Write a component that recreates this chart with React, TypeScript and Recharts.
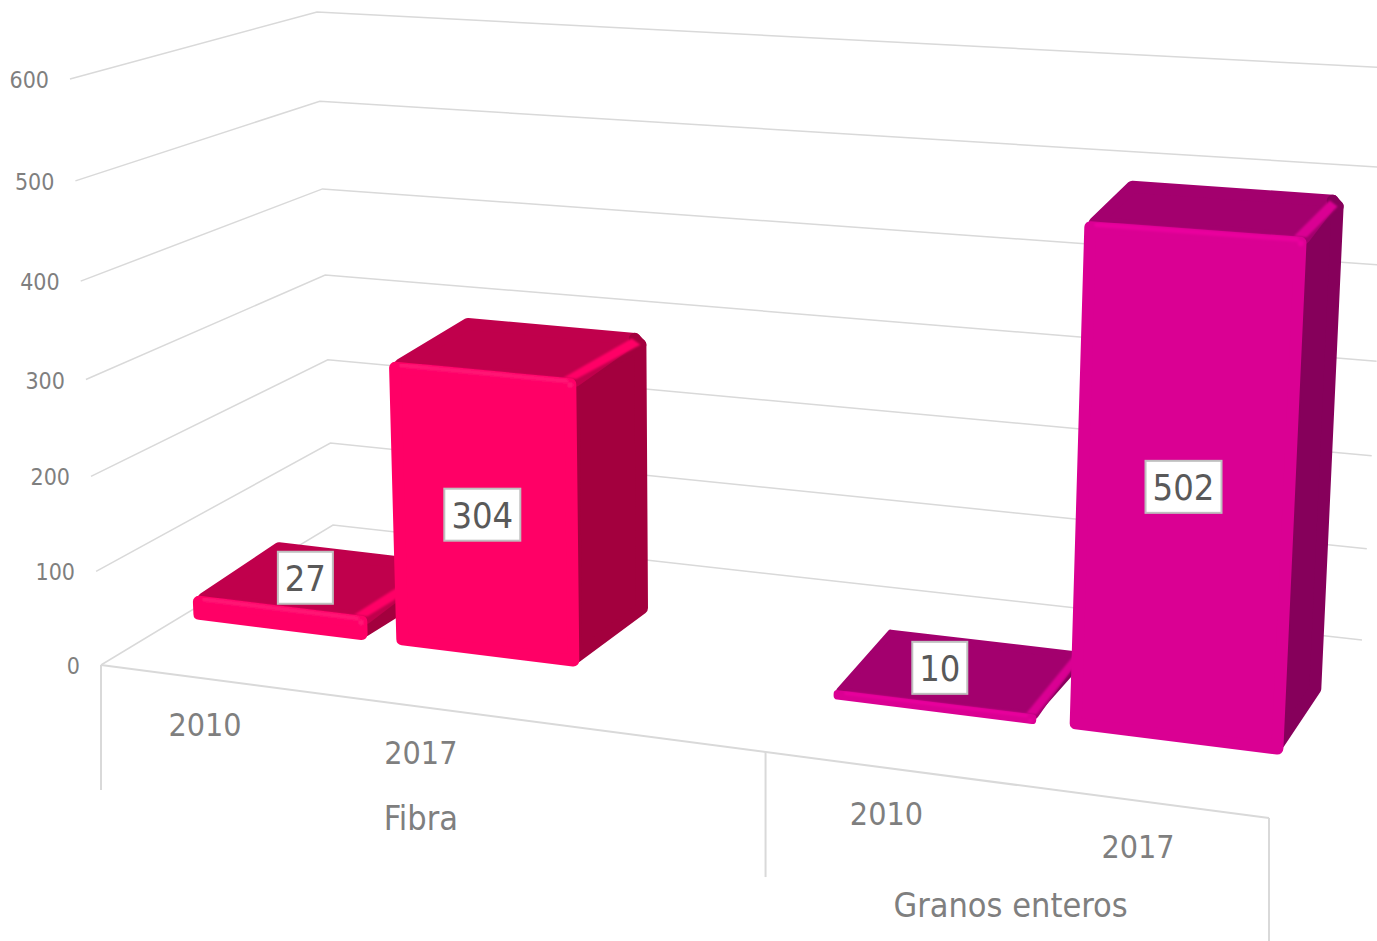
// 3D look clustered columns, every mark goes through the chart scales and then project()

import React from 'react';
import { BarChart, Bar, XAxis, YAxis, CartesianGrid, LabelList } from 'recharts';

const years = ['2010', '2017', '', '2010', '2017'];
const values = [27, 304, null, 10, 502];
const valueTicks = [0, 100, 200, 300, 400, 500, 600];
const groupLabels = ['Fibra', 'Granos enteros'];
const groupCenters = [1.5, 4];
const groupEdges = [0, 3, 5];

const chartData = years.map((year, i) => ({ year, value: values[i], slot: i }));

const W = 1377;
const H = 941;
// the axes need a size of at least 1px to draw, so the plot is a little smaller than the chart
const PLOT_W = W - 1;
const PLOT_H = H - 2;
const FONT = '"DejaVu Sans Condensed", "DejaVu Sans", sans-serif';
const GRID = '#d9d9d9';
const MUTED = '#7f7f7f';

// corners of the 3D box on screen
const FBL = [101, 665];
const FBR = [1269, 818];
const FTL = [70, 79];
const FTR = [1298, 165];
const BBL = [333, 525];
const BBR = [1362, 640];
const BTL = [317, 12];
const BTR = [1392, 68];

const BAR_FRONT = 0.34;
const BAR_BACK = 0.71;

const lerp = (a: number[], b: number[], t: number) => [a[0] + (b[0] - a[0]) * t, a[1] + (b[1] - a[1]) * t];
const warp = (u: number, k: number) => (k * u) / (1 + (k - 1) * u);
const toU = (x: number) => (x - 1) / PLOT_W;
const toV = (y: number) => (PLOT_H - y) / PLOT_H;
const dist = (a: number[], b: number[]) => Math.hypot(a[0] - b[0], a[1] - b[1]) || 1;
// point px pixels from a towards b
const toward = (a: number[], b: number[], px: number) => lerp(a, b, px / dist(a, b));

function project(u: number, v: number, depth: number) {
  const s = warp(u, 0.88);
  const bottom = lerp(lerp(FBL, FBR, s), lerp(BBL, BBR, s), depth);
  const top = lerp(lerp(FTL, FTR, s), lerp(BTL, BTR, s), depth);
  return lerp(bottom, top, warp(v, 0.95));
}

const pts = (list: number[][]) => list.map(p => `${p[0].toFixed(1)},${p[1].toFixed(1)}`).join(' ');

// pull the corners of a quad in, so a thick round stroke gives rounded corners at the true outline
function inset(quad: number[][], r: number) {
  return quad.map((p, i) => {
    const a = toward(p, quad[(i + 1) % 4], r);
    const b = toward(p, quad[(i + 3) % 4], r);
    return [a[0] + b[0] - p[0], a[1] + b[1] - p[1]];
  });
}

const pinkColors = { front: '#ff0066', top: '#c0004c', side: '#a3003e', shine: '#ff1274' };
const magentaColors = { front: '#da0093', top: '#a3006e', side: '#86005b', shine: '#ea009e' };
const palettes = [pinkColors, pinkColors, null, magentaColors, magentaColors];

// hand placed labels in the original, the two low bars have theirs moved up onto the top face
const labelNudges = [[26, -40], [-2, 0], [0, 0], [6, -39], [-1, -4]];

function Face({ quad, color, r }: any) {
  return <polygon points={pts(inset(quad, r))} fill={color} stroke={color} strokeWidth={r * 2} strokeLinejoin="round" />;
}

function Box3D(props: any) {
  const { x, y, width, payload } = props;
  const colors = palettes[payload.slot];
  if (!colors || payload.value == null) return null;
  const u0 = toU(x);
  const u1 = toU(x + width);
  const v1 = toV(y);
  const fbl = project(u0, 0, BAR_FRONT);
  const fbr = project(u1, 0, BAR_FRONT);
  const ftl = project(u0, v1, BAR_FRONT);
  const ftr = project(u1, v1, BAR_FRONT);
  const bbr = project(u1, 0, BAR_BACK);
  const btl = project(u0, v1, BAR_BACK);
  const btr = project(u1, v1, BAR_BACK);
  const frontHeight = dist(ftl, fbl);
  const r = Math.min(6, frontHeight / 2.5);
  const bevel = Math.min(9, frontHeight / 1.5);
  // faces run on under the front one, so its round corners leave no notch
  const sideQuad = [toward(ftr, ftl, 8), btr, bbr, toward(fbr, fbl, 8)];
  const topQuad = [toward(ftl, fbl, r), btl, btr, toward(ftr, fbr, r)];
  const topCorner = inset(topQuad, r)[2];
  const sideCorner = inset(sideQuad, r)[1];
  return (
    <g>
      <defs>
        <filter id="soft-edge" x="-5%" y="-5%" width="110%" height="110%">
          <feGaussianBlur stdDeviation="0.9" />
        </filter>
      </defs>
      <Face quad={sideQuad} color={colors.side} r={r} />
      <Face quad={topQuad} color={colors.top} r={r} />
      <line
        x1={topCorner[0]}
        y1={topCorner[1]}
        x2={sideCorner[0]}
        y2={sideCorner[1]}
        stroke={colors.side}
        strokeWidth={r * 2}
        strokeLinecap="round"
      />
      <polygon
        points={pts([ftr, sideCorner, toward(topCorner, btl, 3), toward(ftr, ftl, bevel + 4)])}
        fill={colors.front}
        filter="url(#soft-edge)"
      />
      <Face quad={[ftl, ftr, fbr, fbl]} color={colors.front} r={r} />
      <g filter="url(#soft-edge)">
        <line
          x1={toward(ftl, ftr, 12)[0]}
          y1={toward(ftl, ftr, 12)[1] + bevel / 3}
          x2={toward(ftr, ftl, 10)[0]}
          y2={toward(ftr, ftl, 10)[1] + bevel / 3}
          stroke={colors.shine}
          strokeWidth={bevel / 2}
          strokeLinecap="round"
        />
        <circle cx={ftr[0] - 6} cy={ftr[1] + 6} r={bevel / 3} fill={colors.shine} />
      </g>
    </g>
  );
}

function DataLabel(props: any) {
  const { x, y, width, height, value } = props;
  if (value == null) return null;
  const p = project(toU(x + width / 2), toV(y + height / 2), BAR_FRONT);
  const nudge = labelNudges[values.indexOf(value)];
  const cx = p[0] + nudge[0];
  const cy = p[1] + nudge[1];
  const text = String(value);
  const boxW = 13 + text.length * 21;
  return (
    <g>
      <rect x={cx - boxW / 2} y={cy - 26} width={boxW} height={52} fill="#fff" stroke="#bfbfbf" strokeWidth={2} />
      <text x={cx} y={cy + 1} textAnchor="middle" dominantBaseline="central" fontFamily={FONT} fontSize={36} fill="#595959">
        {text}
      </text>
    </g>
  );
}

function GridLine(props: any) {
  const v = toV(props.y1);
  const line = [project(0, v, 0), project(0, v, 1), project(1, v, 1)];
  return (
    <g key={props.key}>
      <polyline points={pts(line)} fill="none" stroke={GRID} strokeWidth={1.5} />
      {v < 0.001 && <polyline points={pts([project(0, 0, 0), project(1, 0, 0)])} fill="none" stroke={GRID} strokeWidth={2} />}
    </g>
  );
}

function ValueTick(props: any) {
  const p = project(0, toV(props.y), 0);
  return (
    <text x={p[0] - 21} y={p[1] + 1} textAnchor="end" dominantBaseline="central" fontFamily={FONT} fontSize={23} fill={MUTED}>
      {props.payload.value}
    </text>
  );
}

function YearTick(props: any) {
  if (!props.payload.value) return <g />;
  const p = project(toU(props.x), 0, 0);
  return (
    <text x={p[0]} y={p[1] + 46} textAnchor="middle" dominantBaseline="central" fontFamily={FONT} fontSize={32} fill={MUTED}>
      {props.payload.value}
    </text>
  );
}

function GroupTick(props: any) {
  const u = toU(props.x);
  const p = project(u, 0, 0);
  const at = groupCenters.indexOf(props.payload.value);
  if (at >= 0) {
    return (
      <text x={p[0]} y={p[1] + 105 + 20 * u} textAnchor="middle" dominantBaseline="central" fontFamily={FONT} fontSize={34} fill={MUTED}>
        {groupLabels[at]}
      </text>
    );
  }
  return <line x1={p[0]} y1={p[1]} x2={p[0]} y2={p[1] + 125} stroke={GRID} strokeWidth={2} />;
}

export default function App() {
  return (
    <div style={{ position: 'absolute', left: 0, top: 0, width: W, height: H, background: '#fff' }}>
      <BarChart
        width={W}
        height={H}
        data={chartData}
        margin={{ top: 0, right: 0, bottom: 0, left: 0 }}
        barCategoryGap="7%"
      >
        <CartesianGrid horizontal={GridLine} vertical={false} syncWithTicks />
        <XAxis dataKey="year" height={1} axisLine={false} tickLine={false} interval={0} tick={YearTick} />
        <XAxis
          xAxisId="frame"
          dataKey="slot"
          type="number"
          domain={[0, 5]}
          allowDataOverflow
          ticks={[...groupEdges, ...groupCenters]}
          height={1}
          axisLine={false}
          tickLine={false}
          interval={0}
          tick={GroupTick}
        />
        <YAxis domain={[0, 600]} ticks={valueTicks} width={1} axisLine={false} tickLine={false} interval={0} tick={ValueTick} />
        <Bar dataKey="value" shape={Box3D} isAnimationActive={false}>
          <LabelList dataKey="value" content={DataLabel} />
        </Bar>
      </BarChart>
    </div>
  );
}
